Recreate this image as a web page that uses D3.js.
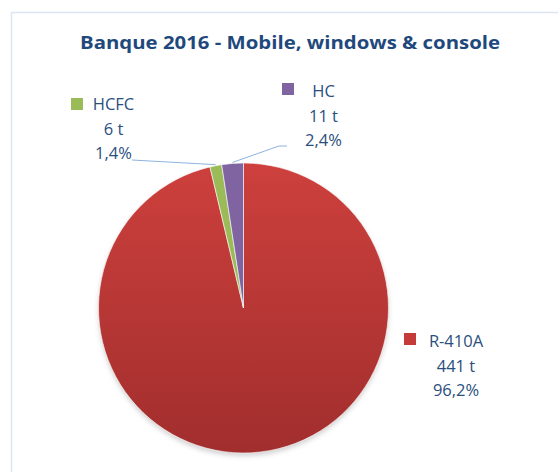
<!DOCTYPE html>
<html>
<head>
<meta charset="utf-8">
<script src="https://cdn.jsdelivr.net/npm/d3@7"></script>
<style>
  body { margin: 0; background: #fff; }
  text { font-family: "Open Sans", "Liberation Sans", sans-serif; }
</style>
</head>
<body>
<svg id="chart" width="558" height="472"></svg>
<script>
// Banque 2016 - pie of refrigerant tonnage

var categories = ["R-410A", "HCFC", "HC"];
var tonnes     = [441, 6, 11];
var pctLabels  = ["96,2%", "1,4%", "2,4%"];
var colors     = ["#C43B39", "#9BBB59", "#8064A2"];

var W = 558, H = 472;
var cx = 243.5, cy = 308, R = 145;

var svg = d3.select("#chart");
var defs = svg.append("defs");

// vertical shading on the big slice, like the office chart
var grad = defs.append("linearGradient")
  .attr("id", "redGrad").attr("x1", 0).attr("y1", 0).attr("x2", 0).attr("y2", 1);
grad.append("stop").attr("offset", "0%").attr("stop-color", "#CD403D");
grad.append("stop").attr("offset", "100%").attr("stop-color", "#A12E2D");

var blur = defs.append("filter").attr("id", "shadow")
  .attr("x", "-10%").attr("y", "-10%").attr("width", "120%").attr("height", "130%");
blur.append("feGaussianBlur").attr("stdDeviation", 2.5);

// chart area frame
svg.append("path")
  .attr("d", "M11.5," + H + "V12.5H" + W)
  .attr("fill", "none")
  .attr("stroke", "#DCE6F2")
  .attr("stroke-width", 1.5);

svg.append("text")
  .attr("x", 290).attr("y", 49)
  .attr("text-anchor", "middle")
  .attr("font-size", 18.5)
  .attr("font-weight", "bold")
  .attr("fill", "#1F497D")
  .attr("textLength", 420)
  .attr("lengthAdjust", "spacingAndGlyphs")
  .text("Banque 2016 - Mobile, windows & console");

var data = categories.map(function (c, i) {
  return { name: c, value: tonnes[i], pct: pctLabels[i], color: colors[i] };
});

var pie = d3.pie().sort(null).value(function (d) { return d.value; });
var arc = d3.arc().innerRadius(0).outerRadius(R);
var arcs = pie(data);

var g = svg.append("g").attr("transform", "translate(" + cx + "," + cy + ")");

g.append("circle")
  .attr("cx", 0).attr("cy", 3).attr("r", R)
  .attr("fill", "#999").attr("opacity", 0.45)
  .attr("filter", "url(#shadow)");

g.selectAll("path.slice")
  .data(arcs)
  .enter().append("path")
  .attr("class", "slice")
  .attr("d", arc)
  .attr("fill", function (d, i) { return i === 0 ? "url(#redGrad)" : d.data.color; })
  .attr("stroke", "#fff")
  .attr("stroke-width", 0.6);

// data labels: legend key + name, tonnes, percent
var labelPos = [
  { x: 456, y: 347, key: [404, 333] },
  { x: 113.5, y: 110, key: [71, 98] },
  { x: 323.5, y: 97,  key: [282, 83] }
];

var labels = svg.selectAll("g.label")
  .data(arcs)
  .enter().append("g")
  .attr("class", "label");

labels.append("rect")
  .attr("x", function (d, i) { return labelPos[i].key[0]; })
  .attr("y", function (d, i) { return labelPos[i].key[1]; })
  .attr("width", 12).attr("height", 12)
  .attr("fill", function (d) { return d.data.color; });

labels.each(function (d, i) {
  var p = labelPos[i];
  var t = d3.select(this).append("text")
    .attr("text-anchor", "middle")
    .attr("font-size", 16.5)
    .attr("fill", "#2A4F7E");
  t.append("tspan").attr("x", p.x).attr("y", p.y).text(d.data.name);
  t.append("tspan").attr("x", p.x).attr("y", p.y + 24.5).text(d.data.value + " t");
  t.append("tspan").attr("x", p.x).attr("y", p.y + 48.5).text(d.data.pct);
});

// leader lines for the two thin slices
var leaderOuter = d3.arc().innerRadius(R + 1).outerRadius(R + 1);
var hcfcEnd = leaderOuter.centroid(arcs[1]);
var hcEnd = leaderOuter.centroid(arcs[2]);

var line = d3.line();
svg.append("path")
  .attr("d", line([[132, 160], [cx + hcfcEnd[0], cy + hcfcEnd[1]]]))
  .attr("fill", "none").attr("stroke", "#8DB3E2").attr("stroke-width", 1);
svg.append("path")
  .attr("d", line([[287, 146], [279, 146], [cx + hcEnd[0], cy + hcEnd[1]]]))
  .attr("fill", "none").attr("stroke", "#8DB3E2").attr("stroke-width", 1);
</script>
</body>
</html>
